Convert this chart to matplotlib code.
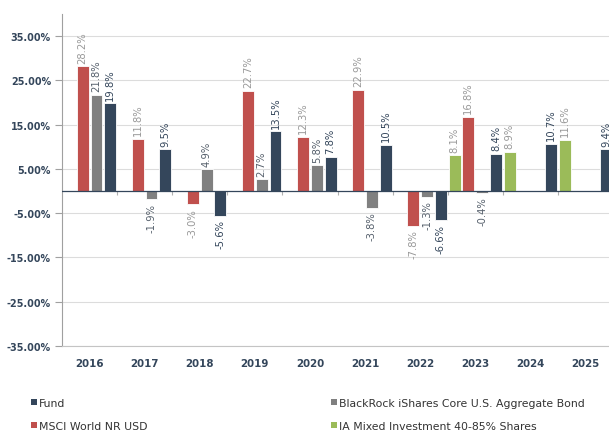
import numpy as np
import matplotlib
matplotlib.use("Agg")
import matplotlib.pyplot as plt
from matplotlib.patches import Patch

years = ["2016", "2017", "2018", "2019", "2020", "2021", "2022", "2023", "2024", "2025"]
nan = np.nan
ia_mixed = [nan, nan, nan, nan, nan, nan, nan, 8.1, 8.9, 11.6]
msci = [28.2, 11.8, -3.0, 22.7, 12.3, 22.9, -7.8, 16.8, nan, nan]
blackrock = [21.8, -1.9, 4.9, 2.7, 5.8, -3.8, -1.3, -0.4, nan, nan]
fund = [19.8, 9.5, -5.6, 13.5, 7.8, 10.5, -6.6, 8.4, 10.7, 9.4]
y_ticks = [35, 25, 15, 5, -5, -15, -25, -35]

names = ["IA Mixed Investment 40-85% Shares", "MSCI World NR USD",
         "BlackRock iShares Core U.S. Aggregate Bond", "Fund"]
series = [ia_mixed, msci, blackrock, fund]
colors = ["#9bbb59", "#c0504d", "#808080", "#34465b"]
label_colors = ["#999999", "#999999", "#56606c", "#34465b"]
offsets = [-0.375, -0.125, 0.125, 0.375]

W, H = 609, 431
fig = plt.figure(figsize=(W / 100, H / 100), dpi=100)
ax = fig.add_axes([62 / W, (H - 347) / H, 551 / W, 332 / H])

x = np.arange(len(years))
for vals, col, lc, off in zip(series, colors, label_colors, offsets):
    v = np.array(vals, dtype=float)
    ax.bar(x + off, v, width=0.215, color=col, edgecolor="white", linewidth=0.6, zorder=3)
    for xi, vi in zip(x, v):
        if np.isnan(vi):
            continue
        pos = vi >= 0
        ax.annotate(f"{vi:.1f}%", (xi + off, vi), xytext=(0, 2.5 if pos else -2.5),
                    textcoords="offset points", rotation=90, ha="center",
                    va="bottom" if pos else "top", fontsize=7.2, color=lc,
                    family="DejaVu Sans", zorder=4)

ax.set_xlim(-0.5, len(years) - 0.5)
ax.set_ylim(-35, 40)
ax.set_yticks(y_ticks)
ax.set_yticklabels([f"{t:.2f}%" for t in y_ticks], fontsize=6.9, fontweight="bold",
                   color="#34465b", family="DejaVu Sans")
ax.set_xticks(x)
ax.set_xticklabels(years, fontsize=7.4, fontweight="bold", color="#34465b", family="DejaVu Sans")
ax.tick_params(axis="x", length=0, pad=9)
ax.tick_params(axis="y", length=5, width=0.8, color="#a0a0a0", pad=3)

ax.grid(axis="y", color="#dcdcdc", linewidth=0.8, zorder=0)
ax.set_axisbelow(True)
for s in ["top", "right"]:
    ax.spines[s].set_visible(False)
ax.spines["left"].set_color("#a0a0a0")
ax.spines["left"].set_linewidth(0.8)
ax.spines["bottom"].set_color("#c4c4c4")
ax.spines["bottom"].set_linewidth(0.8)

ax.axhline(0, color="#34465b", linewidth=0.9, zorder=5)
ax.vlines(np.arange(1, len(years)) - 0.5, -0.9, 0, color="#b0b0b0", linewidth=0.8, zorder=2)

leg_kw = dict(frameon=False, fontsize=7.8, handlelength=0.55, handleheight=0.55,
              handletextpad=0.15, borderpad=0, borderaxespad=0, labelspacing=1.2,
              loc="center left", labelcolor="#333333")
h = {n: Patch(facecolor=c, edgecolor="none") for n, c in zip(names, colors)}
fig.legend(handles=[h["Fund"], h["MSCI World NR USD"]],
           labels=["Fund", "MSCI World NR USD"],
           bbox_to_anchor=(31 / W, (H - 415.5) / H), **leg_kw)
fig.legend(handles=[h["BlackRock iShares Core U.S. Aggregate Bond"], h["IA Mixed Investment 40-85% Shares"]],
           labels=["BlackRock iShares Core U.S. Aggregate Bond", "IA Mixed Investment 40-85% Shares"],
           bbox_to_anchor=(331 / W, (H - 415.5) / H), **leg_kw)

fig.savefig("out.png", dpi=100)
